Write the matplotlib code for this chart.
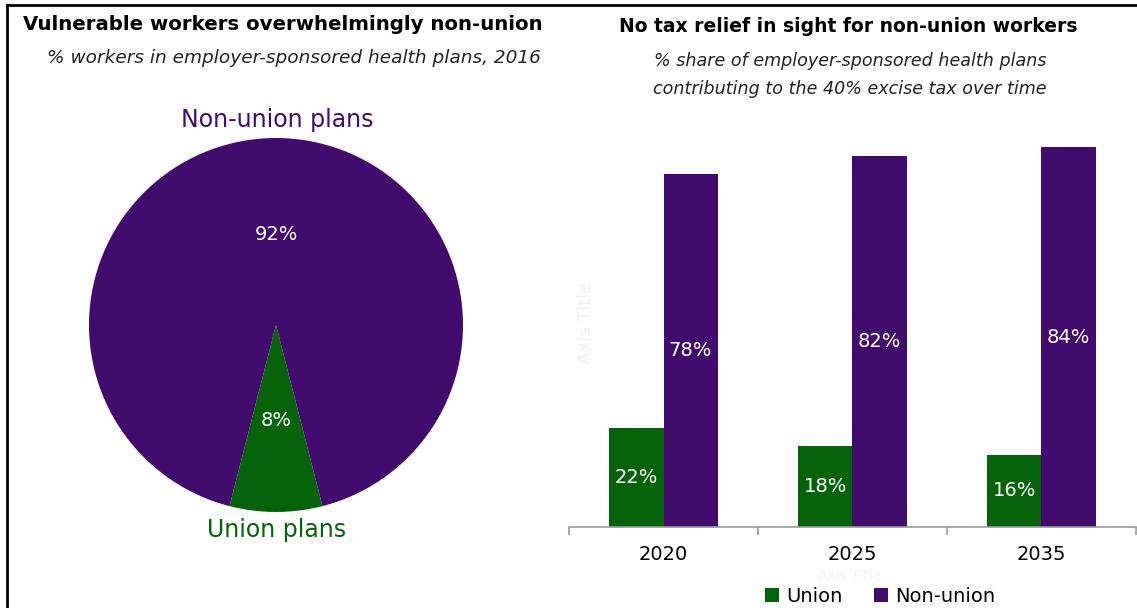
import matplotlib
matplotlib.use("Agg")
import matplotlib.pyplot as plt
from matplotlib.lines import Line2D

# ---- data ----
pie_labels = ["Union plans", "Non-union plans"]
pie_values = [8, 92]
years = ["2020", "2025", "2035"]
union_share = [22, 18, 16]
nonunion_share = [78, 82, 84]
series_names = ["Union", "Non-union"]

GREEN = "#05640A"
PURPLE = "#420C6E"
W, H = 1137, 608
plt.rcParams['font.family'] = ['DejaVu Sans']

fig = plt.figure(figsize=(W / 100, H / 100), dpi=100)

def fx(px):
    return px / W

def fy(py):
    return 1 - py / H

# frame lines
fig.add_artist(Line2D([fx(7), 1], [fy(5), fy(5)], color="black", lw=2, transform=fig.transFigure))
fig.add_artist(Line2D([fx(7), fx(7)], [fy(5), 0], color="black", lw=2, transform=fig.transFigure))

# ---- titles ----
fig.text(fx(283), fy(25), "Vulnerable workers overwhelmingly non-union", ha="center", va="center",
         fontsize=14.2, fontweight="bold")
fig.text(fx(294), fy(58), "% workers in employer-sponsored health plans, 2016", ha="center", va="center",
         fontsize=13.3, style="italic", color="#222222")
fig.text(fx(848), fy(27), "No tax relief in sight for non-union workers", ha="center", va="center",
         fontsize=13.5, fontweight="bold")
fig.text(fx(850), fy(61), "% share of employer-sponsored health plans", ha="center", va="center",
         fontsize=12.6, style="italic", color="#222222")
fig.text(fx(850), fy(89), "contributing to the 40% excise tax over time", ha="center", va="center",
         fontsize=12.6, style="italic", color="#222222")

# ---- pie ----
cx, cy, r = 276, 325, 187
axp = fig.add_axes([fx(cx - r), fy(cy + r), (2 * r) / W, (2 * r) / H])
half = pie_values[0] / 100 * 360 / 2
wedges, _ = axp.pie(pie_values, colors=[GREEN, PURPLE], startangle=-90 - half,
                    counterclock=True, radius=1)
axp.set_xlim(-1, 1)
axp.set_ylim(-1, 1)
axp.set_aspect("auto")
axp.axis("off")
axp.text(0, -95 / r, f"{pie_values[0]}%", ha="center", va="center", color="white", fontsize=14)
axp.text(0, 90 / r, f"{pie_values[1]}%", ha="center", va="center", color="white", fontsize=14)
fig.text(fx(277), fy(120), pie_labels[1], ha="center", va="center", color=PURPLE, fontsize=17)
fig.text(fx(277), fy(530), pie_labels[0], ha="center", va="center", color=GREEN, fontsize=17)

# ---- bars ----
x0, x1, base = 569, 1136, 527
pxper = 4.52
axb = fig.add_axes([fx(x0), fy(base), (x1 - x0) / W, (100 * pxper) / H])
xs = list(range(len(years)))
bw = 0.286
b1 = axb.bar([x - bw / 2 for x in xs], union_share, width=bw, color=GREEN)
b2 = axb.bar([x + bw / 2 for x in xs], nonunion_share, width=bw, color=PURPLE)
for bars, vals in ((b1, union_share), (b2, nonunion_share)):
    for b, v in zip(bars, vals):
        axb.text(b.get_x() + b.get_width() / 2, v / 2, f"{v}%", ha="center", va="center",
                 color="white", fontsize=14)
axb.set_xlim(-0.5, len(years) - 0.5)
axb.set_ylim(0, 100)
for s in ("top", "right", "left"):
    axb.spines[s].set_visible(False)
axb.spines["bottom"].set_color("#9a9a9a")
axb.spines["bottom"].set_linewidth(1.2)
axb.set_yticks([])
axb.set_xticks(xs)
axb.set_xticklabels(years, fontsize=14)
axb.tick_params(axis="x", which="major", length=0, pad=13)
axb.set_xticks([i - 0.5 for i in range(len(years) + 1)], minor=True)
axb.tick_params(axis="x", which="minor", length=6, color="#9a9a9a", width=1.2)
axb.patch.set_visible(False)

# faint placeholder axis titles (barely visible in the reference)
fig.text(fx(586), fy(323), "Axis Title", rotation=90, ha="center", va="center",
         fontsize=13, color="#f0f0f0")
fig.text(fx(850), fy(576), "Axis Title", ha="center", va="center", fontsize=10, color="#f2f2f2",
         zorder=0)

leg = fig.legend([b1, b2], series_names, loc="center", bbox_to_anchor=(fx(880), fy(596)),
                 ncol=2, frameon=False, fontsize=14, handlelength=0.75, handleheight=0.75,
                 handletextpad=0.35, columnspacing=1.6, borderpad=0)

fig.savefig("out.png", dpi=100)
